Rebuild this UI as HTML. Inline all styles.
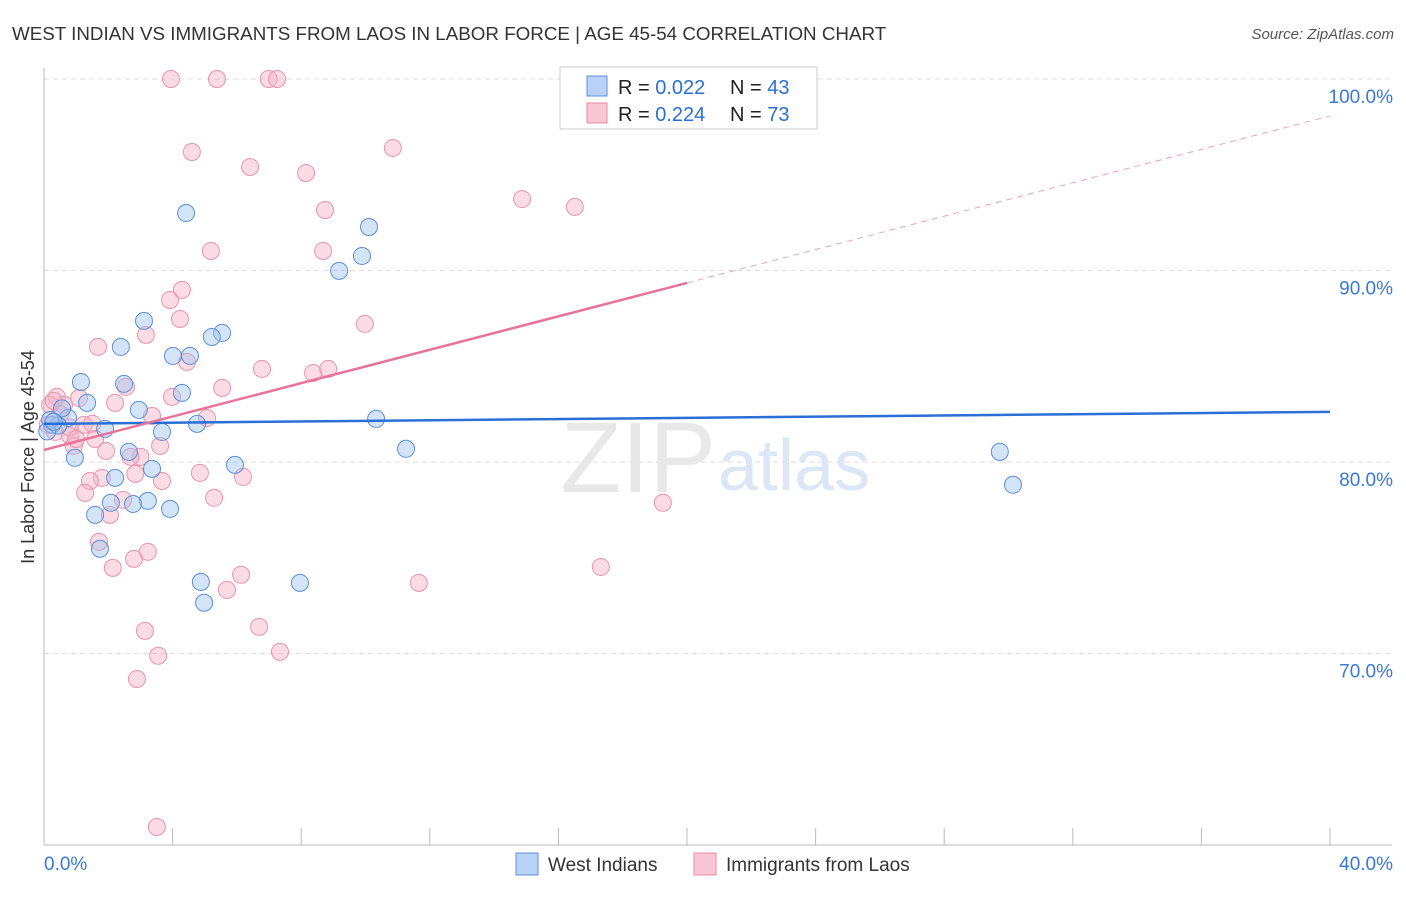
<!DOCTYPE html>
<html><head><meta charset="utf-8"><style>
body{margin:0;background:#fff;font-family:"Liberation Sans",sans-serif}
svg text{font-family:"Liberation Sans",sans-serif}
</style></head><body>
<svg id="c" width="1406" height="892" xmlns="http://www.w3.org/2000/svg">
<text x="12" y="40" font-size="18.8" fill="#333">WEST INDIAN VS IMMIGRANTS FROM LAOS IN LABOR FORCE | AGE 45-54 CORRELATION CHART</text>
<text x="1394" y="39" font-size="15" fill="#555" font-style="italic" text-anchor="end">Source: ZipAtlas.com</text>
<text x="34" y="457" font-size="18" fill="#333" text-anchor="middle" transform="rotate(-90 34 457)">In Labor Force | Age 45-54</text>
<g id="grid"></g>
<text x="716" y="492" font-size="100" fill="#e8e8e8" text-anchor="end" font-family="Liberation Serif">ZIP</text>
<text x="718" y="490" font-size="72" fill="#dbe7f6">atlas</text>
<g id="pts"></g>
<g id="lines"></g>
<g>
<rect x="560" y="67" width="257" height="62" fill="#fff" stroke="#ccc"/>
<rect x="587" y="76" width="20" height="20" fill="#b8d3f5" stroke="#5b8fdc"/>
<rect x="587" y="103" width="20" height="20" fill="#f8c6d4" stroke="#e98aa6"/>
<text x="618" y="94" font-size="20" fill="#222">R = <tspan fill="#2a6fd6">0.022</tspan></text>
<text x="730" y="94" font-size="20" fill="#222">N = <tspan fill="#2a6fd6">43</tspan></text>
<text x="618" y="121" font-size="20" fill="#222">R = <tspan fill="#2a6fd6">0.224</tspan></text>
<text x="730" y="121" font-size="20" fill="#222">N = <tspan fill="#2a6fd6">73</tspan></text>
</g>
<g>
<rect x="516" y="853" width="22" height="22" fill="#b8d3f5" stroke="#5b8fdc"/>
<text x="548" y="871" font-size="19" fill="#333">West Indians</text>
<rect x="694" y="853" width="22" height="22" fill="#f8c6d4" stroke="#e98aa6"/>
<text x="726" y="871" font-size="19" fill="#333">Immigrants from Laos</text>
</g>
</svg>
<script>
const blueX=[4.42,10.11,9.89,9.18,3.11,5.54,5.22,2.39,4.01,4.54,1.15,2.49,4.29,1.34,2.95,10.33,4.76,0.75,0.25,0.44,1.9,3.67,11.26,29.73,0.96,2.64,5.94,3.36,2.21,30.14,3.23,2.08,2.77,3.92,1.59,1.74,4.88,7.96,4.98,0.19,0.56,0.1,0.3];
const blueY=[93.0,92.27,90.76,89.98,87.37,86.74,86.53,86.01,85.54,85.54,84.18,84.08,83.61,83.09,82.72,82.25,81.99,82.3,81.94,81.9,81.73,81.57,80.69,80.53,80.22,80.53,79.85,79.64,79.17,78.81,77.97,77.87,77.81,77.55,77.24,75.47,73.74,73.69,72.65,82.2,82.8,81.6,82.1];
const pinkX=[3.95,5.38,6.99,7.25,4.6,10.85,6.41,8.15,14.87,16.51,8.74,5.19,8.68,4.29,3.92,4.23,9.98,3.17,1.68,4.45,6.78,8.37,8.84,2.55,5.54,0.4,1.09,3.98,2.21,0.62,3.36,5.07,1.24,0.34,0.81,1.59,3.61,1.93,0.93,3.0,2.69,2.84,3.67,4.85,6.19,1.8,1.43,1.28,2.46,5.29,2.05,19.25,1.71,3.23,2.8,2.14,17.32,6.13,5.69,11.66,3.14,6.69,3.55,7.34,2.89,3.51,0.12,0.19,0.5,0.8,1.0,0.3,1.5];
const pinkY=[100,100,100,100,96.19,96.4,95.4,95.09,93.73,93.32,93.16,91.02,91.02,88.99,88.46,87.47,87.21,86.64,86.01,85.23,84.86,84.65,84.86,83.92,83.87,83.4,83.34,83.4,83.09,82.98,82.41,82.3,81.94,81.57,81.36,81.2,80.84,80.58,80.84,80.27,80.27,79.38,79.01,79.43,79.22,79.17,79.01,78.39,78.02,78.13,77.24,77.87,75.83,75.31,74.94,74.47,74.52,74.11,73.32,73.69,71.18,71.39,69.88,70.09,68.67,60.94,81.94,82.98,82.5,81.8,81.2,83.2,82.0];
const yTicks=[100,90,80,70];
const yTickLabels=["100.0%","90.0%","80.0%","70.0%"];
const blueTrend=[81.99,82.62];
const pinkTrend=[80.63,98.07];
const NS="http://www.w3.org/2000/svg";
const xs=v=>44+v/40*1286, ys=v=>79+(100-v)*19.15;
function mk(t,a,p){const e=document.createElementNS(NS,t);for(const k in a)e.setAttribute(k,a[k]);p.appendChild(e);return e;}
const grid=document.getElementById('grid');
yTicks.forEach((t,i)=>{
 const l=mk('line',{x1:44,x2:1392,y1:ys(t),y2:ys(t),stroke:'#ddd','stroke-dasharray':'5,4'},grid);
 
 
 const tx=mk('text',{x:1393,y:ys(t)+24,'font-size':19,fill:'#3a78d8','text-anchor':'end'},grid);
 tx.textContent=yTickLabels[i];
 
 
});
const ax=mk('line',{x1:44,x2:44,y1:68,y2:845,stroke:'#bbb'},grid);


const bx=mk('line',{x1:44,x2:1392,y1:845,y2:845,stroke:'#bbb'},grid);


for(let i=0;i<=10;i++){const t=mk('line',{x1:xs(i*4),x2:xs(i*4),y1:828,y2:845,stroke:'#bbb'},grid);
 
 }
[["0.0%",44,'start'],["40.0%",1393,'end']].forEach(a=>{const t=mk('text',{x:a[1],y:870,'font-size':19,fill:'#3a78d8','text-anchor':a[2]},grid);t.textContent=a[0];
 
 });
const pts=document.getElementById('pts');
pinkX.forEach((x,i)=>{const c=mk('circle',{cx:xs(x),cy:ys(pinkY[i]),r:8.5,fill:'rgba(246,178,198,0.45)',stroke:'#eb92ad','stroke-width':1},pts);
 
 });
blueX.forEach((x,i)=>{const c=mk('circle',{cx:xs(x),cy:ys(blueY[i]),r:8.5,fill:'rgba(160,195,238,0.45)',stroke:'#5b8fdc','stroke-width':1},pts);
 
 });
const lines=document.getElementById('lines');
const bl=mk('line',{x1:xs(0),y1:ys(blueTrend[0]),x2:xs(40),y2:ys(blueTrend[1]),stroke:'#2a6fd6','stroke-width':2.5},lines);


const pm=pinkTrend[0]+(pinkTrend[1]-pinkTrend[0])*0.5;
const pl=mk('line',{x1:xs(0),y1:ys(pinkTrend[0]),x2:xs(20),y2:ys(pm),stroke:'#e8739a','stroke-width':2.5},lines);


const pd=mk('line',{x1:xs(20),y1:ys(pm),x2:xs(40),y2:ys(pinkTrend[1]),stroke:'#eea0b8','stroke-width':1,'stroke-dasharray':'6,5'},lines);


</script>
</body></html>
